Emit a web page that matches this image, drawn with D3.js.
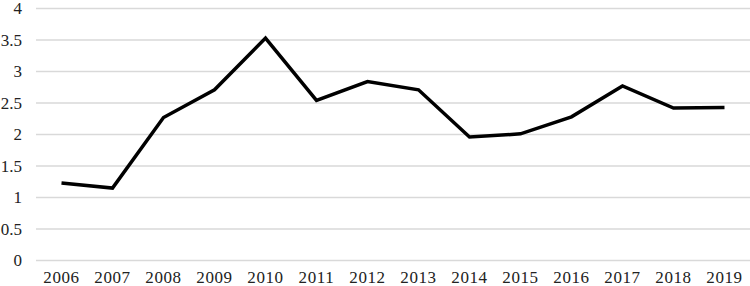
<!DOCTYPE html>
<html>
<head>
<meta charset="utf-8">
<script src="https://cdnjs.cloudflare.com/ajax/libs/d3/7.8.5/d3.min.js"></script>
<style>
  body { margin: 0; background: #fff; }
</style>
</head>
<body>
<div id="chart"></div>
<script>
var years = ["2006", "2007", "2008", "2009", "2010", "2011", "2012", "2013", "2014", "2015", "2016", "2017", "2018", "2019"];
var values = [1.23, 1.15, 2.27, 2.71, 3.53, 2.54, 2.84, 2.71, 1.96, 2.01, 2.28, 2.77, 2.42, 2.43];
var yTicks = [0, 0.5, 1, 1.5, 2, 2.5, 3, 3.5, 4];

var width = 750, height = 286;
var margin = { top: 8.5, right: 0, bottom: 25.5, left: 36 };
var font = "'Liberation Serif', 'Times New Roman', serif";

var svg = d3.select("#chart").append("svg")
    .attr("width", width)
    .attr("height", height)
    .style("font-family", font);

var x = d3.scaleBand()
    .domain(years)
    .range([margin.left, width - margin.right]);

var y = d3.scaleLinear()
    .domain([0, 4])
    .range([height - margin.bottom, margin.top]);

// gridlines
svg.append("g")
  .selectAll("line")
  .data(yTicks)
  .enter()
  .append("line")
  .attr("x1", margin.left)
  .attr("x2", width)
  .attr("y1", function(d){ return y(d); })
  .attr("y2", function(d){ return y(d); })
  .attr("stroke", "#d9d9d9")
  .attr("stroke-width", 1.3);

// y labels
svg.append("g")
  .selectAll("text")
  .data(yTicks)
  .enter()
  .append("text")
  .text(function(d){ return d; })
  .attr("x", 22)
  .attr("y", function(d){ return y(d); })
  .attr("dy", "0.34em")
  .attr("text-anchor", "end")
  .attr("font-family", font)
  .attr("font-size", 17)
  .attr("fill", "#222");

// x labels
svg.append("g")
  .selectAll("text")
  .data(years)
  .enter()
  .append("text")
  .text(function(d){ return d; })
  .attr("x", function(d){ return x(d) + x.bandwidth() / 2; })
  .attr("y", 283)
  .attr("text-anchor", "middle")
  .attr("font-family", font)
  .attr("font-size", 17)
  .attr("letter-spacing", 0.6)
  .attr("fill", "#222");

var line = d3.line()
    .x(function(d, i){ return x(years[i]) + x.bandwidth() / 2; })
    .y(function(d){ return y(d); });

svg.append("path")
  .datum(values)
  .attr("d", line)
  .attr("fill", "none")
  .attr("stroke", "#000")
  .attr("stroke-width", 3.5)
  .attr("stroke-linejoin", "miter");
</script>
</body>
</html>
